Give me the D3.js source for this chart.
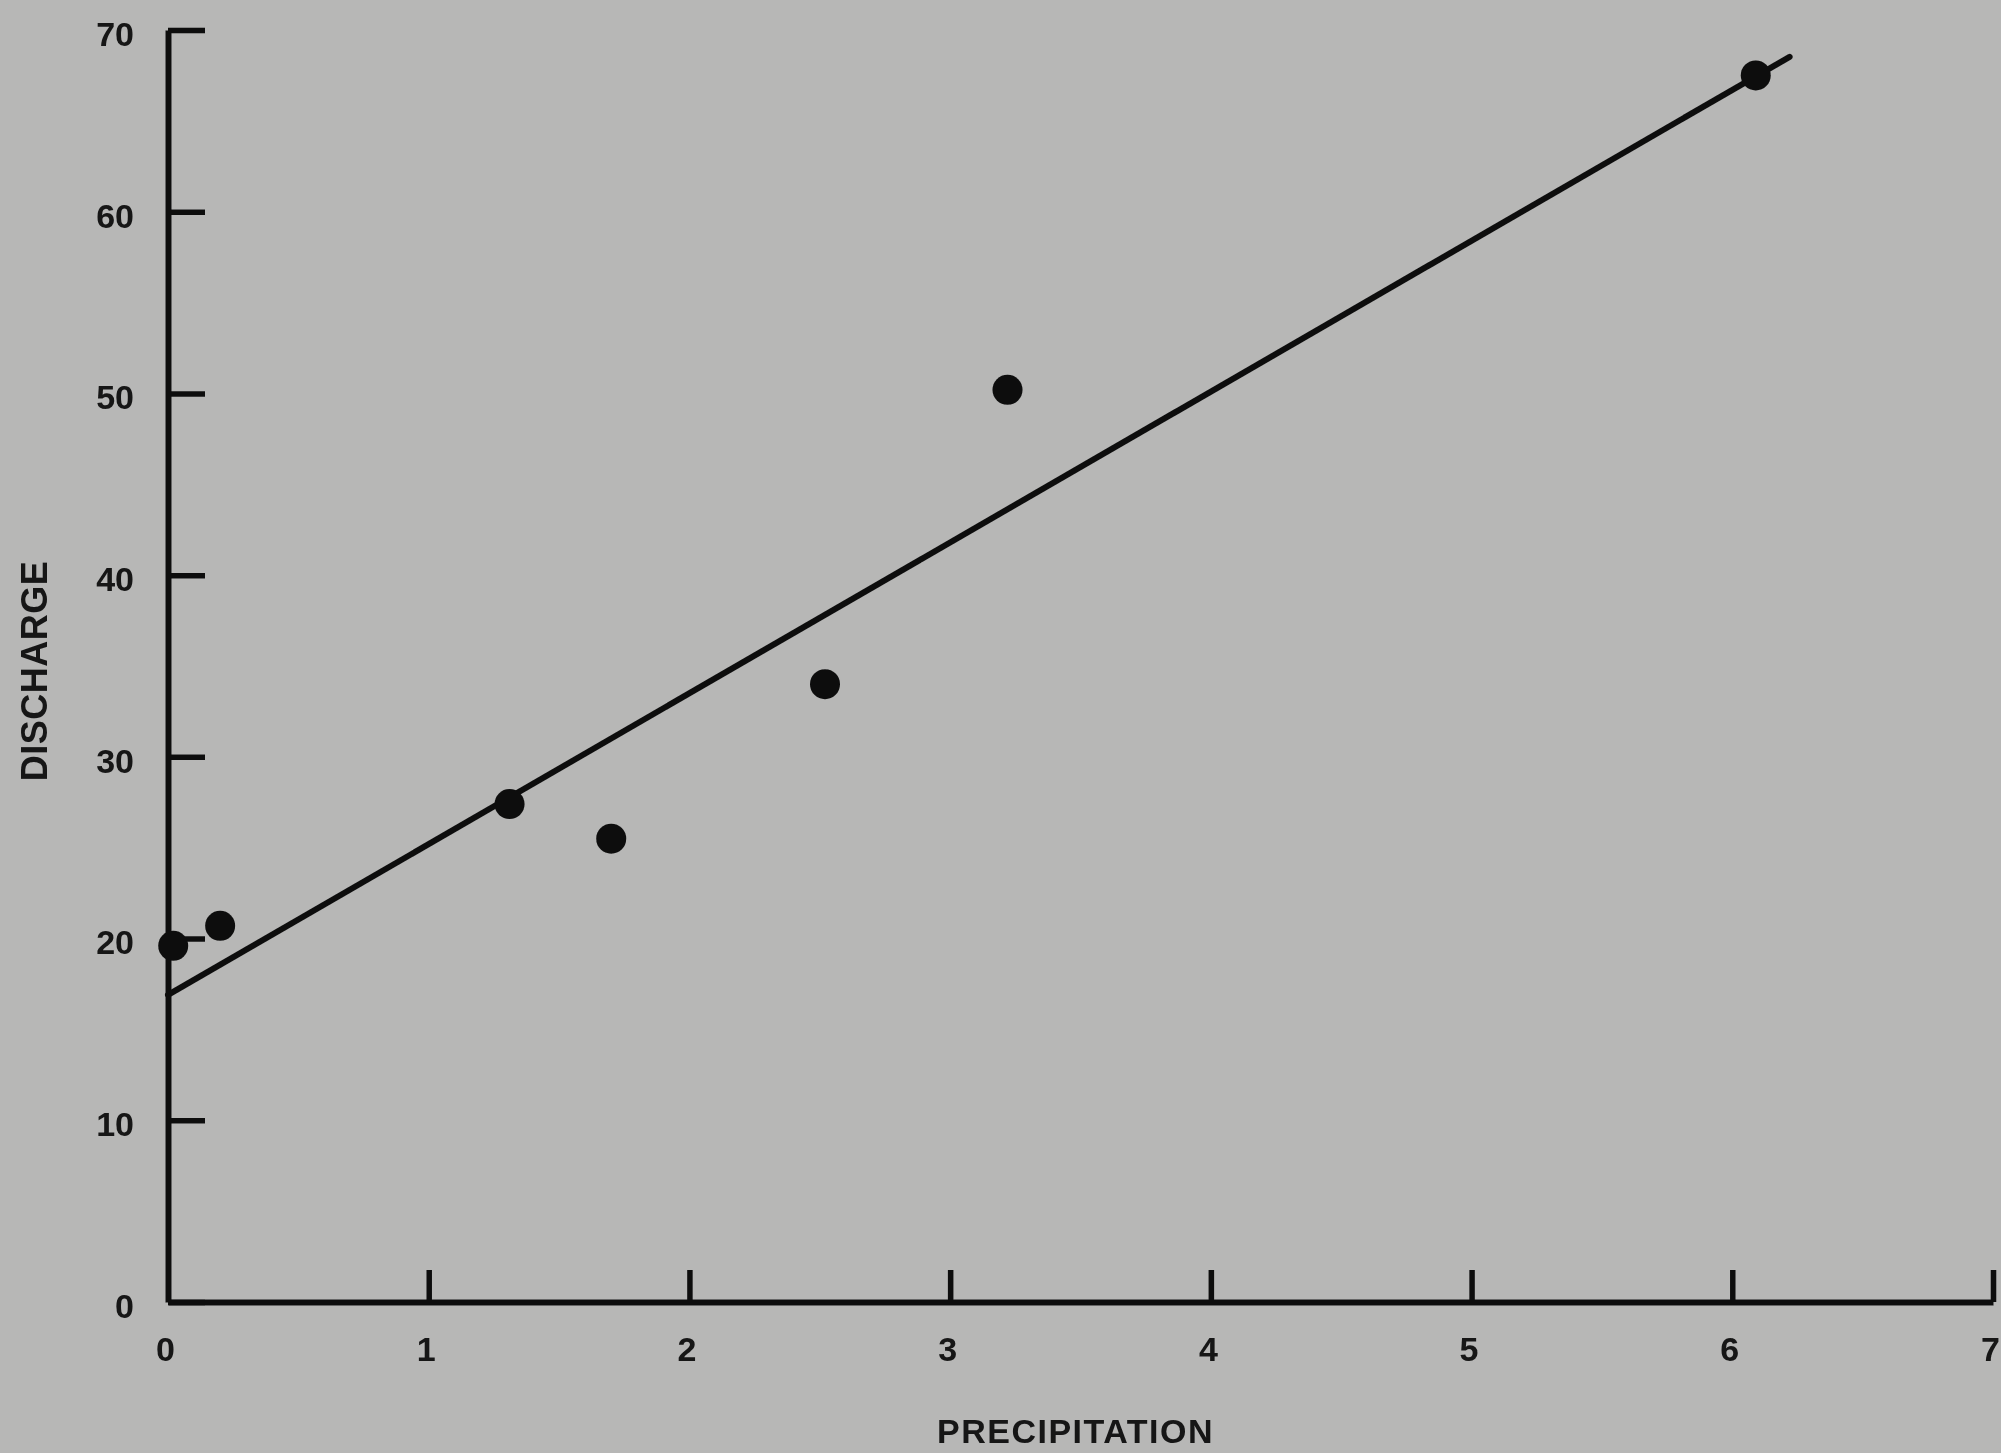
<!DOCTYPE html>
<html>
<head>
<meta charset="utf-8">
<script src="https://cdn.jsdelivr.net/npm/d3@7"></script>
<style>
  html, body { margin: 0; padding: 0; background: #b7b7b6; }
  svg { display: block; }
  text { font-family: "Liberation Sans", Arial, Helvetica, sans-serif; font-weight: bold; fill: #141414; }
</style>
</head>
<body>
<script>
// Observations: precipitation vs. discharge
const precipitation = [0.02, 0.2, 1.31, 1.70, 2.52, 3.22, 6.09];
const discharge     = [19.6, 20.7, 27.4, 25.5, 34.0, 50.2, 67.5];

// Least-squares fit line: discharge = intercept + slope * precipitation
const fitIntercept = 16.9;
const fitSlope = 8.3;
const fitRange = [0, 6.22];

// Axis ticks
const xTicks = [0, 1, 2, 3, 4, 5, 6, 7];
const yTicks = [0, 10, 20, 30, 40, 50, 60, 70];
const xTitle = "PRECIPITATION";
const yTitle = "DISCHARGE";

const W = 2001, H = 1453;
const svg = d3.select("body").append("svg").attr("width", W).attr("height", H);

svg.append("defs").append("filter").attr("id", "soft")
  .append("feGaussianBlur").attr("stdDeviation", 0.7);

const g = svg.append("g").attr("filter", "url(#soft)");

const x = d3.scaleLinear().domain([0, 7]).range([168, 1993]);
const y = d3.scaleLinear().domain([0, 70]).range([1302, 30]);

// Y axis with inward ticks
const yAxis = g.append("g")
  .attr("transform", `translate(${x(0)},0)`)
  .call(d3.axisLeft(y).tickValues(yTicks).tickFormat(d3.format("d"))
    .tickSizeInner(-37).tickSizeOuter(0).tickPadding(34));
yAxis.select(".domain").attr("stroke", "#111").attr("stroke-width", 6);
yAxis.selectAll(".tick line").attr("stroke", "#111").attr("stroke-width", 5.5);
yAxis.selectAll(".tick text").attr("font-size", 34).attr("dy", "0.45em").attr("fill", "#141414");

// X axis with inward ticks
const xAxis = g.append("g")
  .attr("transform", `translate(0,${y(0)})`)
  .call(d3.axisBottom(x).tickValues(xTicks).tickFormat(d3.format("d"))
    .tickSizeInner(-32).tickSizeOuter(0).tickPadding(35));
xAxis.select(".domain").attr("stroke", "#111").attr("stroke-width", 6);
xAxis.selectAll(".tick line").attr("stroke", "#111").attr("stroke-width", 5.5);
xAxis.selectAll(".tick text").attr("font-size", 34).attr("dx", -3).attr("fill", "#141414");
xAxis.selectAll(".tick").filter(d => d === 0).select("line").remove();

// Axis titles
g.append("text")
  .attr("x", (x(0) + x(7)) / 2 - 5)
  .attr("y", 1443)
  .attr("text-anchor", "middle")
  .attr("font-size", 34)
  .attr("letter-spacing", 1.5)
  .text(xTitle);

g.append("text")
  .attr("transform", `translate(47,671) rotate(-90)`)
  .attr("text-anchor", "middle")
  .attr("font-size", 36)
  .attr("letter-spacing", 0.5)
  .text(yTitle);

// Fit line
const fitPts = fitRange.map(p => [p, fitIntercept + fitSlope * p]);
g.append("path")
  .datum(fitPts)
  .attr("d", d3.line().x(d => x(d[0])).y(d => y(d[1])))
  .attr("fill", "none")
  .attr("stroke", "#111")
  .attr("stroke-width", 6)
  .attr("stroke-linecap", "round");

// Observed points
g.selectAll("circle.obs")
  .data(precipitation.map((p, i) => ({ p, q: discharge[i] })))
  .join("circle")
  .attr("class", "obs")
  .attr("cx", d => x(d.p))
  .attr("cy", d => y(d.q))
  .attr("r", 15)
  .attr("fill", "#0d0d0d");
</script>
</body>
</html>
